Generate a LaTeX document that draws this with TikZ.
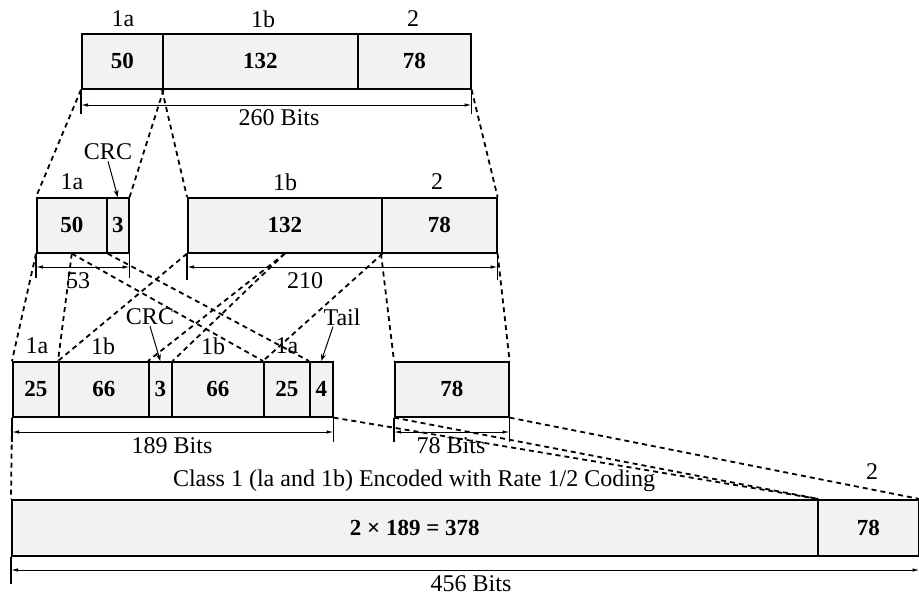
\documentclass[tikz,border=0pt]{standalone}
\usepackage{fontspec}
\setmainfont{Liberation Serif}
\usetikzlibrary{arrows.meta}
\begin{document}
\begin{tikzpicture}[x=1pt,y=-1pt,
  every node/.style={font=\fontsize{24}{28}\selectfont, inner sep=1pt},
  cell/.style={draw, line width=1.6pt, fill=black!5, minimum height=55pt, inner sep=0pt,
    anchor=north west, font=\fontsize{23}{27}\selectfont\bfseries},
  conn/.style={line width=1.8pt, dash pattern=on 5pt off 4pt},
  dim/.style={line width=1pt, {Latex[length=7pt,width=3.5pt]}-{Latex[length=7pt,width=3.5pt]}},
  tick/.style={line width=1.2pt},
  ptr/.style={line width=1pt, -{Stealth[length=7pt,width=5pt]}}
]
\useasboundingbox (0,0) rectangle (919,598);

% Row A
\node[cell, minimum width=81pt]  (a1) at (81,33) {50};
\node[cell, minimum width=195pt] (a2) at (162,33) {132};
\node[cell, minimum width=113pt] (a3) at (357,33) {78};
\node (lA1a) at (123,19) {1a};
\node (lA1b) at (263,19) {1b};
\node (lA2)  at (413,19) {2};

% Row B
\node[cell, minimum width=70pt]  (b1) at (36,197) {50};
\node[cell, minimum width=22pt]  (b2) at (106,197) {3};
\node[cell, minimum width=194pt] (b3) at (187,197) {132};
\node[cell, minimum width=115pt] (b4) at (381,197) {78};
\node (crcB) at (108,152) {CRC};
\node (lB1a) at (72,182) {1a};
\node (lB1b) at (285,182) {1b};
\node (lB2)  at (437,182) {2};

% Row C
\node[cell, minimum width=46pt]  (c1) at (12,361) {25};
\node[cell, minimum width=90pt]  (c2) at (58,361) {66};
\node[cell, minimum width=23pt]  (c3) at (148,361) {3};
\node[cell, minimum width=92pt]  (c4) at (171,361) {66};
\node[cell, minimum width=46pt]  (c5) at (263,361) {25};
\node[cell, minimum width=23pt]  (c6) at (309,361) {4};
\node[cell, minimum width=114pt] (c7) at (394,361) {78};
\node (lC1a)  at (37,346) {1a};
\node (lC1b)  at (103,346) {1b};
\node (crcC)  at (150,317) {CRC};
\node (lC1b2) at (213,346) {1b};
\node (lC1a2) at (287,346) {1a};
\node (tail)  at (342,317) {Tail};

% Row D
\node[cell, minimum width=806pt, minimum height=56pt] (d1) at (11,499) {2 × 189 = 378};
\node[cell, minimum width=101pt, minimum height=56pt] (d2) at (817,499) {78};
\node (lD2) at (872,472) {2};
\node (cls) at (414,481) {Class 1 (la and 1b) Encoded with Rate 1/2 Coding};

% pointers
\draw[ptr] (crcB.south) -- (b2.north);
\draw[ptr] (crcC.south) -- (c3.north);
\draw[ptr] ([xshift=-9pt]tail.south) -- (c6.north);

% dashed mapping lines A -> B
\draw[conn] (a1.south west) -- (b1.north west);
\draw[conn] (a1.south east) -- (b2.north east);
\draw[conn] (a2.south west) -- (b3.north west);
\draw[conn] (a3.south east) -- (b4.north east);

% B -> C
\draw[conn] (b1.south west) -- (c1.north west);
\draw[conn] (b1.south) -- (c2.north west);
\draw[conn] (b1.south) -- (c5.north west);
\draw[conn] (b1.south east) -- (c6.north west);
\draw[conn] (b3.south west) -- (c2.north west);
\draw[conn] (b3.south) -- (c3.north west);
\draw[conn] (b3.south) -- (c3.north east);
\draw[conn] (b3.south east) -- (c5.north west);
\draw[conn] (b4.south west) -- (c7.north west);
\draw[conn] (b4.south east) -- (c7.north east);

% C -> D
\draw[conn] (c1.south west) -- (d1.north west);
\draw[conn] (c6.south east) -- (d1.north east);
\draw[conn] (c7.south west) -- (d1.north east);
\draw[conn] (c7.south east) -- (d2.north east);

% dimension lines
\coordinate (yA) at (0,105);
\coordinate (yB) at (0,267);
\coordinate (yC) at (0,432);
\coordinate (yD) at (0,570);

\draw[tick] (a1.south west) -- ++(0,24);
\draw[tick] (a3.south east) -- ++(0,24);
\draw[dim] (a1.south west |- yA) -- (a3.south east |- yA);
\node (dA) at (279,118) {260 Bits};

\draw[tick] (b1.south west) -- ++(0,24);
\draw[tick] (b2.south east) -- ++(0,24);
\draw[dim] (b1.south west |- yB) -- (b2.south east |- yB);
\node (dB1) at (78,281) {53};
\draw[tick] (b3.south west) -- ++(0,26);
\draw[tick] (b4.south east) -- ++(0,26);
\draw[dim] (b3.south west |- yB) -- (b4.south east |- yB);
\node (dB2) at (305,281) {210};

\draw[tick] (c1.south west) -- ++(0,24);
\draw[tick] (c6.south east) -- ++(0,24);
\draw[dim] (c1.south west |- yC) -- (c6.south east |- yC);
\node (dC1) at (172,446) {189 Bits};
\draw[tick] (c7.south west) -- ++(0,24);
\draw[tick] (c7.south east) -- ++(0,24);
\draw[dim] (c7.south west |- yC) -- (c7.south east |- yC);
\node (dC2) at (451,446) {78 Bits};

\draw[tick] (d1.south west) -- ++(0,27);
\draw[tick] (d2.south east) -- ++(0,27);
\draw[dim] (d1.south west |- yD) -- (d2.south east |- yD);
\node (dD) at (471,584) {456 Bits};
\end{tikzpicture}
\end{document}
